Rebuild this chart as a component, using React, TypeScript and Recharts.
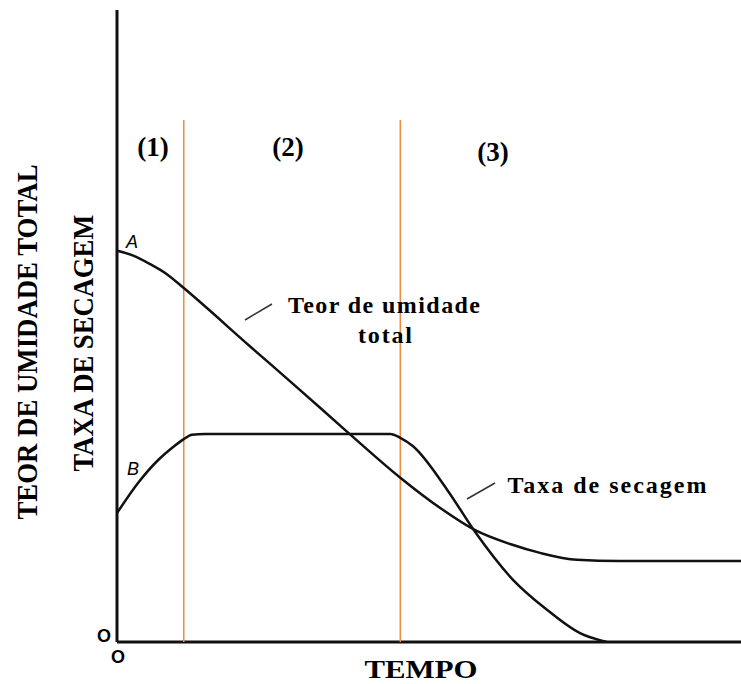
import { LineChart, Line, XAxis, YAxis, ReferenceLine } from 'recharts';

// Curva A: teor de umidade total ao longo do tempo (unidades relativas 0-100)
const tempoA = [0, 2.7, 5.3, 8.0, 10.7, 21.3, 29.3, 37.3, 45.4, 51.8, 57.4, 63.0, 67.8, 73.7, 80.6, 100];
const teorUmidade = [61.9, 61.1, 59.8, 58.2, 56.0, 46.8, 39.9, 32.9, 26.0, 21.2, 17.7, 15.5, 14.1, 13.0, 12.8, 12.8];

// Curva B: taxa de secagem
const tempoB = [0, 3.4, 6.6, 8.8, 10.7, 12.0, 14.1, 29.3, 43.8, 45.4, 47.4, 52.9, 57.4, 63.5, 68.9, 74.2, 78.5];
const taxaSecagem = [20.4, 25.2, 28.8, 30.7, 32.1, 32.8, 32.9, 32.9, 32.9, 32.3, 31.0, 24.1, 17.4, 9.8, 5.1, 1.4, 0];

// limites entre os períodos (1), (2) e (3)
const fronteiras = [10.7, 45.4];
const alturaFronteira = 82.6;
const periodos = ['(1)', '(2)', '(3)'];

const W = 741;
const H = 684;
const serif = '"Liberation Serif", "Times New Roman", serif';
const sans = '"Liberation Sans", Arial, sans-serif';
const laranja = '#f28a3e';

export default function App() {
  const teorData = tempoA.map((t, i) => ({ tempo: t, valor: teorUmidade[i] }));
  const taxaData = tempoB.map((t, i) => ({ tempo: t, valor: taxaSecagem[i] }));

  // posições dos rótulos dos períodos (px)
  const periodoPos = [
    { x: 153, y: 156 },
    { x: 288, y: 156 },
    { x: 493, y: 161 },
  ];

  return (
    <div style={{ position: 'absolute', left: 0, top: 0, width: W, height: H, background: '#fff' }}>
      <LineChart width={W} height={H} margin={{ top: 10, right: 0, left: 117, bottom: 42 }}>
        <XAxis type="number" dataKey="tempo" domain={[0, 100]} hide allowDataOverflow />
        <YAxis type="number" domain={[0, 100]} hide allowDataOverflow />
        {/* eixos desenhados como linhas de referência */}
        <ReferenceLine x={0} stroke="#111" strokeWidth={3} />
        <ReferenceLine y={0} stroke="#111" strokeWidth={3} />
        {fronteiras.map((f) => (
          <ReferenceLine
            key={f}
            segment={[{ x: f, y: 0 }, { x: f, y: alturaFronteira }]}
            stroke={laranja}
            strokeWidth={1.5}
          />
        ))}
        <Line
          data={teorData}
          dataKey="valor"
          type="monotone"
          stroke="#111"
          strokeWidth={2.5}
          dot={false}
          isAnimationActive={false}
        />
        <Line
          data={taxaData}
          dataKey="valor"
          type="monotone"
          stroke="#111"
          strokeWidth={2.5}
          dot={false}
          isAnimationActive={false}
        />
      </LineChart>

      <svg
        width={W}
        height={H}
        style={{ position: 'absolute', left: 0, top: 0, pointerEvents: 'none' }}
      >
        <text
          x={37}
          y={342}
          transform="rotate(-90 37 342)"
          textAnchor="middle"
          fontFamily={serif}
          fontWeight="bold"
          fontSize={29}
          textLength={355}
          lengthAdjust="spacingAndGlyphs"
        >
          TEOR DE UMIDADE TOTAL
        </text>
        <text
          x={93}
          y={343}
          transform="rotate(-90 93 343)"
          textAnchor="middle"
          fontFamily={serif}
          fontWeight="bold"
          fontSize={29}
          textLength={257}
          lengthAdjust="spacingAndGlyphs"
        >
          TAXA DE SECAGEM
        </text>

        {periodos.map((p, i) => (
          <text
            key={p}
            x={periodoPos[i].x}
            y={periodoPos[i].y}
            textAnchor="middle"
            fontFamily={serif}
            fontWeight="bold"
            fontSize={27}
          >
            {p}
          </text>
        ))}

        <text x={132} y={248} textAnchor="middle" fontFamily={sans} fontStyle="italic" fontSize={18}>
          A
        </text>
        <text x={133} y={475} textAnchor="middle" fontFamily={sans} fontStyle="italic" fontSize={18}>
          B
        </text>

        <line x1={245} y1={320} x2={272} y2={304} stroke="#333" strokeWidth={1.5} />
        <text x={384} y={313} textAnchor="middle" fontFamily={serif} fontWeight="bold" fontSize={24} textLength={192} lengthAdjust="spacing">
          Teor de umidade
        </text>
        <text x={385} y={343} textAnchor="middle" fontFamily={serif} fontWeight="bold" fontSize={24} textLength={54} lengthAdjust="spacing">
          total
        </text>

        <line x1={467} y1={499} x2={495} y2={483} stroke="#333" strokeWidth={1.5} />
        <text x={607} y={493} textAnchor="middle" fontFamily={serif} fontWeight="bold" fontSize={24} textLength={199} lengthAdjust="spacing">
          Taxa de secagem
        </text>

        <text x={421} y={678} textAnchor="middle" fontFamily={serif} fontWeight="bold" fontSize={25} textLength={113} lengthAdjust="spacingAndGlyphs">
          TEMPO
        </text>

        <text x={104} y={642} textAnchor="middle" fontFamily={sans} fontWeight="bold" fontSize={18}>
          O
        </text>
        <text x={118} y={663} textAnchor="middle" fontFamily={sans} fontWeight="bold" fontSize={18}>
          O
        </text>
      </svg>
    </div>
  );
}
